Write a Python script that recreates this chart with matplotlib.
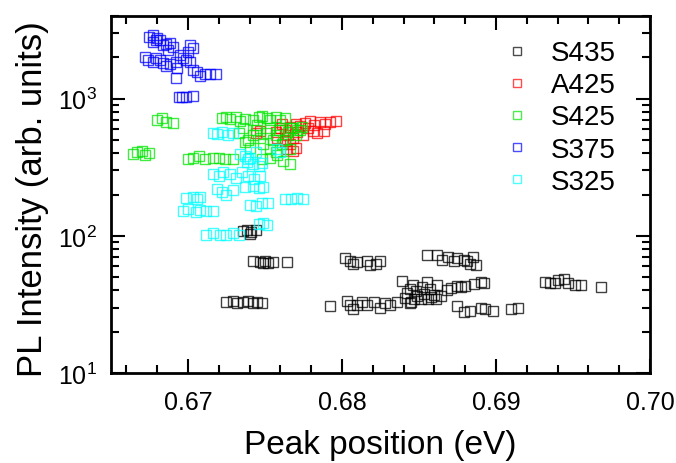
import matplotlib
matplotlib.use("Agg")
import matplotlib.pyplot as plt
from matplotlib.ticker import MultipleLocator, LogLocator

plt.rcParams['font.family'] = ['Liberation Sans', 'DejaVu Sans']
plt.rcParams['mathtext.default'] = 'regular'

labels = ["S435", "A425", "S425", "S375", "S325"]
colors = ["#000000", "#ff0000", "#00e600", "#0000ff", "#00ffff"]

s435_x = [0.6736, 0.6738, 0.6741, 0.6744, 0.6740,
          0.6742, 0.6747, 0.6749, 0.6750, 0.6752, 0.6755, 0.6764,
          0.6725, 0.6729, 0.6732, 0.6736, 0.6739, 0.6742, 0.6745, 0.6748,
          0.6802, 0.6805, 0.6807, 0.6810, 0.6816, 0.6818, 0.6822, 0.6825,
          0.6855, 0.6862,
          0.6865, 0.6869, 0.6873, 0.6875, 0.6879, 0.6881, 0.6883, 0.6887, 0.6885,
          0.6839, 0.6842, 0.6844, 0.6846, 0.6848, 0.6849, 0.6851, 0.6852, 0.6853, 0.6855,
          0.6856, 0.6857, 0.6858, 0.6860, 0.6861, 0.6862, 0.6864, 0.6847, 0.6845, 0.6841,
          0.6868, 0.6871, 0.6875, 0.6877, 0.6880, 0.6886, 0.6890, 0.6892,
          0.6792, 0.6803, 0.6805, 0.6807, 0.6810, 0.6813, 0.6816, 0.6821, 0.6825, 0.6828,
          0.6831, 0.6836, 0.6844,
          0.6875, 0.6879, 0.6883, 0.6890, 0.6893, 0.6898, 0.6910, 0.6914,
          0.6932, 0.6935, 0.6938, 0.6940, 0.6944, 0.6947, 0.6951, 0.6955, 0.6968]
s435_y = [108, 111, 106, 110, 102.5,
          65, 64, 63, 65, 63, 64, 64,
          33, 33.4, 32.2, 33, 33.4, 32.2, 33, 32.2,
          68.6, 65, 62, 64, 65, 61, 62, 65,
          73, 73,
          67, 70, 65, 68.6, 67, 65, 62, 61, 70,
          47, 38, 41, 44, 39.5, 36.3, 34.5, 42, 37.5, 46,
          34.5, 41, 35.7, 37, 34.5, 44, 36.3, 34.5, 32.8, 35.1,
          40.2, 41.5, 43, 42, 43, 44.4, 46, 45,
          30.7, 33.4, 31.2, 29.2, 31.2, 32.8, 31.2, 32.8, 30, 32.2,
          31.2, 32.8, 32.2,
          31, 27.8, 28.2, 29.7, 29.2, 28.2, 29.2, 29.7,
          46, 45, 45, 47.5, 48.3, 45, 44, 44, 42]

a425_x = [0.6776, 0.6779, 0.6782, 0.6786, 0.6789, 0.6792, 0.6796, 0.6778, 0.6781, 0.6784,
          0.6788, 0.6773, 0.6770, 0.6766, 0.6763, 0.6760, 0.6765, 0.6768, 0.6771, 0.6775,
          0.6763, 0.6766, 0.6764, 0.6768, 0.6770, 0.6744, 0.6747, 0.6758, 0.6761, 0.6757]
a425_y = [669, 692, 647, 680, 658, 680, 692, 615, 585, 566,
          585, 636, 658, 626, 595, 615, 547, 520, 575, 547,
          487, 463, 426, 412, 440, 566, 585, 520, 658, 575]

s425_x = [0.6680, 0.6683, 0.6686, 0.6690,
          0.6664, 0.6667, 0.6670, 0.6672, 0.6675,
          0.6722, 0.6725, 0.6727, 0.6731, 0.6734, 0.6737, 0.6742, 0.6746, 0.6748, 0.6751,
          0.6753, 0.6757, 0.6760, 0.6763,
          0.6733, 0.6736, 0.6739, 0.6742, 0.6744, 0.6747, 0.6749, 0.6751, 0.6753, 0.6755,
          0.6757, 0.6759, 0.6761, 0.6763, 0.6765, 0.6768, 0.6770, 0.6771, 0.6774, 0.6766,
          0.6753, 0.6740, 0.6737, 0.6745, 0.6767, 0.6773,
          0.6700, 0.6703, 0.6707, 0.6711, 0.6716, 0.6720, 0.6724, 0.6729,
          0.6748, 0.6753, 0.6758, 0.6762, 0.6766, 0.6757]
s425_y = [703, 728, 680, 669,
          392, 405, 412, 385, 398,
          728, 740, 716, 740, 692, 716, 703, 740, 752, 728,
          703, 740, 703, 728,
          566, 615, 503, 547, 595, 520, 463, 566, 615, 503,
          547, 595, 463, 503, 575, 615, 547, 595, 626, 426,
          426, 440, 479, 647, 610, 590,
          360, 366, 379, 360, 372, 366, 360, 360,
          360, 372, 385, 348, 331, 405]

s375_x = [0.6675, 0.6677, 0.6679, 0.6680, 0.6677, 0.6682, 0.6684, 0.6686, 0.6688, 0.6690,
          0.6687, 0.6701, 0.6703, 0.6700, 0.6672, 0.6674, 0.6677, 0.6679, 0.6682, 0.6684,
          0.6686, 0.6688, 0.6692, 0.6693, 0.6692, 0.6695, 0.6697, 0.6699, 0.6701, 0.6703,
          0.6706, 0.6708, 0.6711, 0.6714, 0.6718, 0.6694, 0.6696, 0.6699, 0.6703]
s375_y = [2825, 2920, 2685, 2770, 2600, 2685, 2470, 2512, 2553, 2388,
          2270, 2470, 2350, 2197, 2018, 1922, 1858, 1987, 1922, 1828,
          1738, 1798, 1858, 1680, 1422, 2089, 1987, 1922, 1858, 1626,
          1571, 1469, 1521, 1521, 1521, 1035, 1035, 1035, 1052]

s325_x = [0.6716, 0.6719, 0.6722, 0.6726, 0.6729,
          0.6734, 0.6737, 0.6740, 0.6739, 0.6744,
          0.6738, 0.6742, 0.6746, 0.6748,
          0.6758, 0.6760,
          0.6727, 0.6731, 0.6735, 0.6739, 0.6743, 0.6747,
          0.6716, 0.6720, 0.6723,
          0.6719, 0.6722, 0.6725, 0.6729,
          0.6737, 0.6742, 0.6746, 0.6749,
          0.6699, 0.6703, 0.6706, 0.6708,
          0.6697, 0.6700, 0.6705, 0.6708, 0.6712, 0.6716,
          0.6740, 0.6744, 0.6748, 0.6752,
          0.6763, 0.6767, 0.6771, 0.6775,
          0.6746, 0.6749, 0.6751,
          0.6712, 0.6716, 0.6721, 0.6725, 0.6729, 0.6733]
s325_y = [566, 556, 575, 547, 566,
          392, 379, 372, 360, 405,
          343, 331, 320, 337,
          426, 405,
          280, 266, 290, 275, 258, 275,
          280, 271, 290,
          218, 207, 197, 214,
          225, 232, 222, 225,
          190, 193, 187, 193,
          151, 156, 149, 153, 151, 151,
          169, 164, 172, 172,
          184, 187, 190, 184,
          121, 123, 119,
          102, 104, 101, 102, 104, 101]

series_x = [s435_x, a425_x, s425_x, s375_x, s325_x]
series_y = [s435_y, a425_y, s425_y, s375_y, s325_y]

fig = plt.figure(figsize=(6.76, 4.64), dpi=100)
ax = fig.add_axes([111/676, 90/464, 539/676, 357/464])

for xs, ys, c, lab in zip(series_x, series_y, colors, labels):
    ax.plot(xs, ys, linestyle='none', marker='s', markersize=6.5,
            markerfacecolor='none', markeredgecolor=c, markeredgewidth=1.0,
            alpha=0.75, label=lab)

ax.set_yscale('log')
ax.set_xlim(0.665, 0.700)
ax.set_ylim(10, 4000)
ax.xaxis.set_major_locator(MultipleLocator(0.01))
ax.xaxis.set_minor_locator(MultipleLocator(0.002))
ax.xaxis.set_major_formatter(matplotlib.ticker.FormatStrFormatter('%.2f'))
ax.yaxis.set_major_locator(LogLocator(base=10, numticks=10))
ax.yaxis.set_minor_locator(LogLocator(base=10, subs=range(2, 10), numticks=20))

ax.tick_params(which='both', direction='in', top=True, right=True, width=1.5,
               labelsize=18)
ax.tick_params(which='major', length=10)
ax.tick_params(which='minor', length=5.5)
ax.tick_params(axis='x', which='major', pad=12)
ax.tick_params(axis='y', which='major', pad=10)
for s in ax.spines.values():
    s.set_linewidth(2)

ax.set_xlabel("Peak position (eV)", fontsize=24, labelpad=11)
ax.set_ylabel("PL Intensity (arb. units)", fontsize=25)
ax.yaxis.set_label_coords(-0.115, 0.49)

leg = ax.legend(loc='upper right', frameon=False, fontsize=20, markerscale=0.9,
                handlelength=1.0, handletextpad=0.7, labelspacing=0.22,
                borderaxespad=0.4, bbox_to_anchor=(1 - 12/539, 1 - 2/357))
for h in leg.legend_handles:
    h.set_alpha(0.7)

fig.savefig("out.png", dpi=100)
